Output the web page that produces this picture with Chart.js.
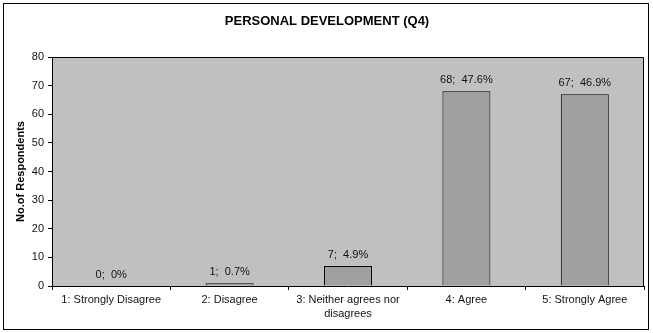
<!DOCTYPE html>
<html>
<head>
<meta charset="utf-8">
<script src="https://cdn.jsdelivr.net/npm/chart.js@4/dist/chart.umd.min.js"></script>
<style>
  html, body { margin: 0; padding: 0; background: #fff; }
  #wrap { width: 653px; height: 333px; position: relative; }
</style>
</head>
<body>
<div id="wrap"><canvas id="c" width="653" height="333"></canvas></div>
<script>
const chartTitle = "PERSONAL DEVELOPMENT (Q4)";
const yAxisTitle = "No.of Respondents";
const categories = [
  "1: Strongly Disagree",
  "2: Disagree",
  ["3: Neither agrees nor", "disagrees"],
  "4: Agree",
  "5: Strongly Agree"
];
const counts = [0, 1, 7, 68, 67];
const percents = ["0%", "0.7%", "4.9%", "47.6%", "46.9%"];
const yTicks = [0, 10, 20, 30, 40, 50, 60, 70, 80];

const FONT = "'Liberation Sans', Arial, sans-serif";

const framePlugin = {
  id: 'frame',
  beforeDraw(chart) {
    const { ctx, chartArea: a } = chart;
    ctx.save();
    ctx.fillStyle = '#fff';
    ctx.fillRect(0, 0, chart.width, chart.height);
    ctx.strokeStyle = '#000';
    ctx.lineWidth = 1;
    ctx.strokeRect(3.5, 3.5, 645, 326);
    ctx.fillStyle = '#C0C0C0';
    ctx.fillRect(a.left, a.top, a.right - a.left, a.bottom - a.top);
    ctx.fillStyle = '#000';
    ctx.font = "bold 13px " + FONT;
    ctx.textAlign = 'center';
    ctx.textBaseline = 'middle';
    ctx.fillText(chartTitle, 327, 21);
    ctx.restore();
  },
  afterDatasetsDraw(chart) {
    const { ctx, chartArea: a } = chart;
    ctx.save();
    ctx.strokeStyle = '#000';
    ctx.lineWidth = 1;
    ctx.beginPath();
    ctx.moveTo(Math.round(a.left) + 0.5, Math.round(a.top) + 0.5);
    ctx.lineTo(Math.round(a.right) - 0.5, Math.round(a.top) + 0.5);
    ctx.lineTo(Math.round(a.right) - 0.5, Math.round(a.bottom) + 0.5);
    ctx.stroke();
    const meta = chart.getDatasetMeta(0);
    ctx.fillStyle = '#111';
    ctx.font = "11px " + FONT;
    ctx.textAlign = 'center';
    ctx.textBaseline = 'alphabetic';
    meta.data.forEach((bar, i) => {
      ctx.fillText(counts[i] + ";  " + percents[i], bar.x, bar.y - 8);
    });
    ctx.restore();
  }
};

new Chart(document.getElementById('c'), {
  type: 'bar',
  data: {
    labels: categories,
    datasets: [{
      data: counts,
      backgroundColor: '#A0A0A0',
      borderColor: '#000',
      borderWidth: 1,
      barPercentage: 0.405,
      categoryPercentage: 1.0
    }]
  },
  options: {
    responsive: false,
    animation: false,
    devicePixelRatio: 1,
    layout: { padding: { left: 4, top: 57, right: 9, bottom: 4 } },
    plugins: { legend: { display: false }, tooltip: { enabled: false }, title: { display: false } },
    scales: {
      x: {
        afterFit(s) { s.height = 43; },
        grid: { display: true, offset: true, drawOnChartArea: false, drawTicks: true, tickLength: 4, color: '#000', lineWidth: 1 },
        border: { display: true, color: '#000', width: 1 },
        ticks: { color: '#111', font: { family: FONT, size: 11, lineHeight: 1.25 }, padding: 3, maxRotation: 0, autoSkip: false }
      },
      y: {
        min: 0, max: 80,
        afterFit(s) { s.width = 48; },
        afterBuildTicks(s) { s.ticks = yTicks.map(v => ({ value: v })); },
        grid: { display: true, drawOnChartArea: false, drawTicks: true, tickLength: 4, color: '#000', lineWidth: 1 },
        border: { display: true, color: '#000', width: 1 },
        ticks: { color: '#111', font: { family: FONT, size: 11 }, padding: 4 },
        title: { display: true, text: yAxisTitle, color: '#000', font: { family: FONT, size: 11, weight: 'bold' }, padding: { top: 10, bottom: 0 } }
      }
    }
  },
  plugins: [framePlugin]
});
</script>
</body>
</html>
